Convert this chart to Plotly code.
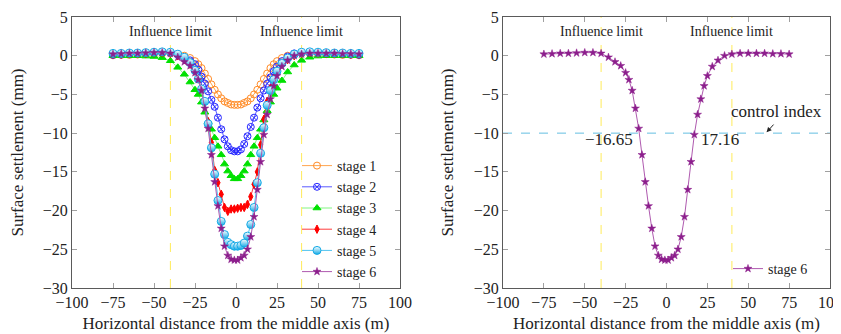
import plotly.graph_objects as go

# ---------------- data ----------------
x_pos = [-75, -70, -65, -60, -55, -50, -45, -40, -35.5, -31.5, -28, -25, -23, -21, -19, -17,
         -15, -13, -11, -9, -7, -5, -3, -1, 1, 3, 5, 7, 9, 11, 13, 15, 17, 19, 21, 23, 25,
         28, 31.5, 35.5, 40, 45, 50, 55, 60, 65, 70, 75]

stage1 = [0.05, 0.1, 0.1, 0.15, 0.2, 0.25, 0.3, 0.3, 0.2, 0.0, -0.3, -0.7, -1.1, -1.6, -2.3, -3.0,
          -3.7, -4.4, -5.0, -5.5, -5.9, -6.1, -6.3, -6.35,
          -6.35, -6.3, -6.1, -5.9, -5.5, -5.0, -4.4, -3.7, -3.0, -2.3, -1.6, -1.1, -0.7,
          -0.3, 0.0, 0.2, 0.3, 0.3, 0.25, 0.2, 0.15, 0.1, 0.1, 0.05]
stage2 = [0.1, 0.15, 0.2, 0.25, 0.3, 0.35, 0.4, 0.4, 0.2, -0.2, -0.6, -1.1, -1.8, -2.7, -3.6, -4.6,
          -5.7, -6.6, -8.0, -9.5, -10.8, -11.7, -12.2, -12.35,
          -12.35, -12.1, -11.4, -10.4, -9.2, -8.0, -6.7, -5.5, -4.5, -3.6, -2.8, -2.0, -1.4,
          -0.7, -0.1, 0.3, 0.4, 0.4, 0.35, 0.3, 0.25, 0.2, 0.15, 0.1]
stage3 = [0.0, 0.0, 0.0, 0.0, -0.05, -0.1, -0.25, -0.65, -1.5, -2.4, -3.4, -4.4, -5.0, -6.0, -7.3, -8.5,
          -9.5, -10.6, -11.7, -12.8, -14.0, -14.9, -15.5, -15.9,
          -15.9, -15.5, -14.9, -14.0, -12.8, -11.7, -10.6, -9.5, -8.3, -7.1, -6.0, -5.0, -4.2,
          -3.2, -2.1, -1.2, -0.6, -0.2, -0.05, 0.0, 0.0, 0.0, 0.0, 0.0]
stage4 = [0.2, 0.2, 0.25, 0.25, 0.3, 0.35, 0.4, 0.3, 0.0, -0.5, -1.1, -2.0, -3.0, -4.3, -6.0, -8.5,
          -11.2, -14.8, -16.4, -17.9, -19.6, -20.1, -19.8, -19.8,
          -19.7, -19.6, -19.6, -19.2, -18.2, -16.6, -15.0, -11.5, -8.2, -5.9, -4.2, -2.9, -2.0,
          -1.1, -0.5, 0.0, 0.3, 0.4, 0.35, 0.3, 0.25, 0.25, 0.2, 0.2]
stage5 = [0.3, 0.3, 0.35, 0.35, 0.4, 0.45, 0.5, 0.45, 0.2, -0.2, -0.9, -1.9, -3.0, -4.3, -5.9, -8.8,
          -11.9, -15.3, -18.7, -21.4, -23.1, -24.1, -24.4, -24.6,
          -24.6, -24.5, -24.2, -23.3, -21.8, -19.6, -16.4, -12.6, -9.3, -6.4, -4.5, -3.1, -2.0,
          -1.0, -0.3, 0.2, 0.45, 0.5, 0.45, 0.4, 0.35, 0.35, 0.3, 0.3]
stage6 = [0.2, 0.25, 0.3, 0.3, 0.35, 0.4, 0.4, 0.3, -0.2, -0.8, -1.3, -2.2, -3.1, -4.5, -6.8, -9.4,
          -12.8, -16.3, -19.4, -22.3, -24.6, -25.8, -26.3, -26.4,
          -26.4, -26.1, -25.8, -25.0, -23.4, -20.8, -17.3, -13.7, -10.2, -7.6, -5.6, -3.9, -2.6,
          -1.4, -0.6, 0.0, 0.2, 0.3, 0.3, 0.3, 0.3, 0.25, 0.25, 0.2]

stage_names = ["stage 1", "stage 2", "stage 3", "stage 4", "stage 5", "stage 6"]
influence_limits = [-40, 40]
control_index = -10
crossings = [-16.65, 17.16]
crossing_labels = ["\u221216.65", "17.16"]

# ---------------- style ----------------
FONT = "Liberation Serif"
TXT = "#222"
styles = [
    dict(line="rgb(255,165,80)", mcol="rgb(255,140,40)", sym="circle-open", size=7),
    dict(line="rgb(90,90,255)", mcol="rgb(40,40,255)", sym="circle-x-open", size=7),
    dict(line="rgb(130,245,130)", mcol="rgb(0,225,0)", sym="triangle-up", size=7),
    dict(line="rgb(255,60,60)", mcol="rgb(255,0,0)", sym="diamond-tall", size=6),
    dict(line="rgb(80,195,240)", mcol="rgb(20,170,230)", sym="circle", size=8),
    dict(line="rgb(175,90,175)", mcol="rgb(140,30,140)", sym="star", size=6),
]
series = [stage1, stage2, stage3, stage4, stage5, stage6]

fig = go.Figure()
for name, ys, st in zip(stage_names, series, styles):
    marker = dict(symbol=st["sym"], size=st["size"], color=st["mcol"],
                  line=dict(color=st["mcol"], width=1))
    if name == "stage 5":
        marker = dict(symbol="circle", size=8, color="white",
                      gradient=dict(type="vertical", color=st["mcol"]),
                      line=dict(color=st["mcol"], width=1))
    if st["sym"] == "star":
        marker["line"] = dict(color=st["mcol"], width=0.5)
    fig.add_trace(go.Scatter(x=x_pos, y=ys, mode="lines+markers", name=name,
                             line=dict(color=st["line"], width=1), marker=marker,
                             xaxis="x", yaxis="y", legend="legend"))

st = styles[5]
fig.add_trace(go.Scatter(x=x_pos, y=stage6, mode="lines+markers", name="stage 6",
                         line=dict(color=st["line"], width=1),
                         marker=dict(symbol="star", size=6, color=st["mcol"],
                                     line=dict(color=st["mcol"], width=0.5)),
                         xaxis="x2", yaxis="y2", legend="legend2"))

W, H = 841, 334
OFF = 8  # page body margin of the html page
def px_x(p):
    return (p - OFF) / W
def px_y(p):
    return 1 - (p - OFF) / H

xd1 = [px_x(72), px_x(400)]
xd2 = [px_x(503), px_x(830)]
yd = [px_y(288), px_y(17)]

axis_common = dict(showline=True, linecolor="rgb(90,90,90)", linewidth=1, mirror="ticks",
                   ticks="inside", ticklen=5, tickcolor="rgb(160,160,160)", tickwidth=1,
                   showgrid=False, zeroline=False, automargin=False,
                   tickfont=dict(family=FONT, size=16, color=TXT))
xax = dict(axis_common, range=[-100, 100], dtick=25, tick0=0,
           title=dict(text="Horizontal distance from the middle axis (m)",
                      font=dict(family=FONT, size=17, color=TXT), standoff=6))
yax = dict(axis_common, range=[-30, 5], dtick=5, tick0=0,
           title=dict(text="Surface settlement (mm)",
                      font=dict(family=FONT, size=17, color=TXT), standoff=15))

shapes = []
annotations = []
for xa, ya in [("x", "y"), ("x2", "y2")]:
    for xv in influence_limits:
        shapes.append(dict(type="line", xref=xa, yref=ya + " domain", x0=xv, x1=xv, y0=0, y1=1,
                           line=dict(color="rgb(255,235,90)", width=1, dash="dash"), layer="below"))
        annotations.append(dict(x=xv, y=3.1, xref=xa, yref=ya, text="Influence limit",
                                showarrow=False, font=dict(family=FONT, size=14, color=TXT)))

shapes.append(dict(type="line", xref="x2 domain", yref="y2", x0=0, x1=1, y0=control_index,
                   y1=control_index, line=dict(color="rgb(100,190,225)", width=1, dash="dash"),
                   layer="below"))
annotations.append(dict(x=67, y=-7.2, xref="x2", yref="y2", text="control index",
                        showarrow=False, font=dict(family=FONT, size=17, color=TXT)))
annotations.append(dict(x=61.2, y=-9.9, xref="x2", yref="y2", ax=66.3, ay=-8.7,
                        axref="x2", ayref="y2", text="", showarrow=True, arrowhead=2,
                        arrowsize=1, arrowwidth=1, arrowcolor=TXT))
annotations.append(dict(x=crossings[0], y=control_index, xref="x2", yref="y2",
                        text=crossing_labels[0], showarrow=False, xanchor="right",
                        yanchor="top", xshift=-4, yshift=5,
                        font=dict(family=FONT, size=17, color=TXT)))
annotations.append(dict(x=crossings[1], y=control_index, xref="x2", yref="y2",
                        text=crossing_labels[1], showarrow=False, xanchor="left",
                        yanchor="top", xshift=4, yshift=5,
                        font=dict(family=FONT, size=17, color=TXT)))

legend_font = dict(family=FONT, size=14, color=TXT)
fig.update_layout(
    width=W, height=H,
    margin=dict(l=0, r=0, t=0, b=0),
    paper_bgcolor="white", plot_bgcolor="white",
    xaxis=dict(xax, domain=xd1, anchor="y"),
    yaxis=dict(yax, domain=yd, anchor="x"),
    xaxis2=dict(xax, domain=xd2, anchor="y2"),
    yaxis2=dict(yax, domain=yd, anchor="x2"),
    shapes=shapes,
    annotations=annotations,
    legend=dict(x=px_x(297), y=px_y(150), xanchor="left", yanchor="top",
                bgcolor="rgba(255,255,255,0)", font=legend_font, tracegroupgap=0,
                itemwidth=30),
    legend2=dict(x=px_x(728), y=px_y(253), xanchor="left", yanchor="top",
                 bgcolor="rgba(255,255,255,0)", font=legend_font, itemwidth=30),
)

fig.write_html("out.html")
